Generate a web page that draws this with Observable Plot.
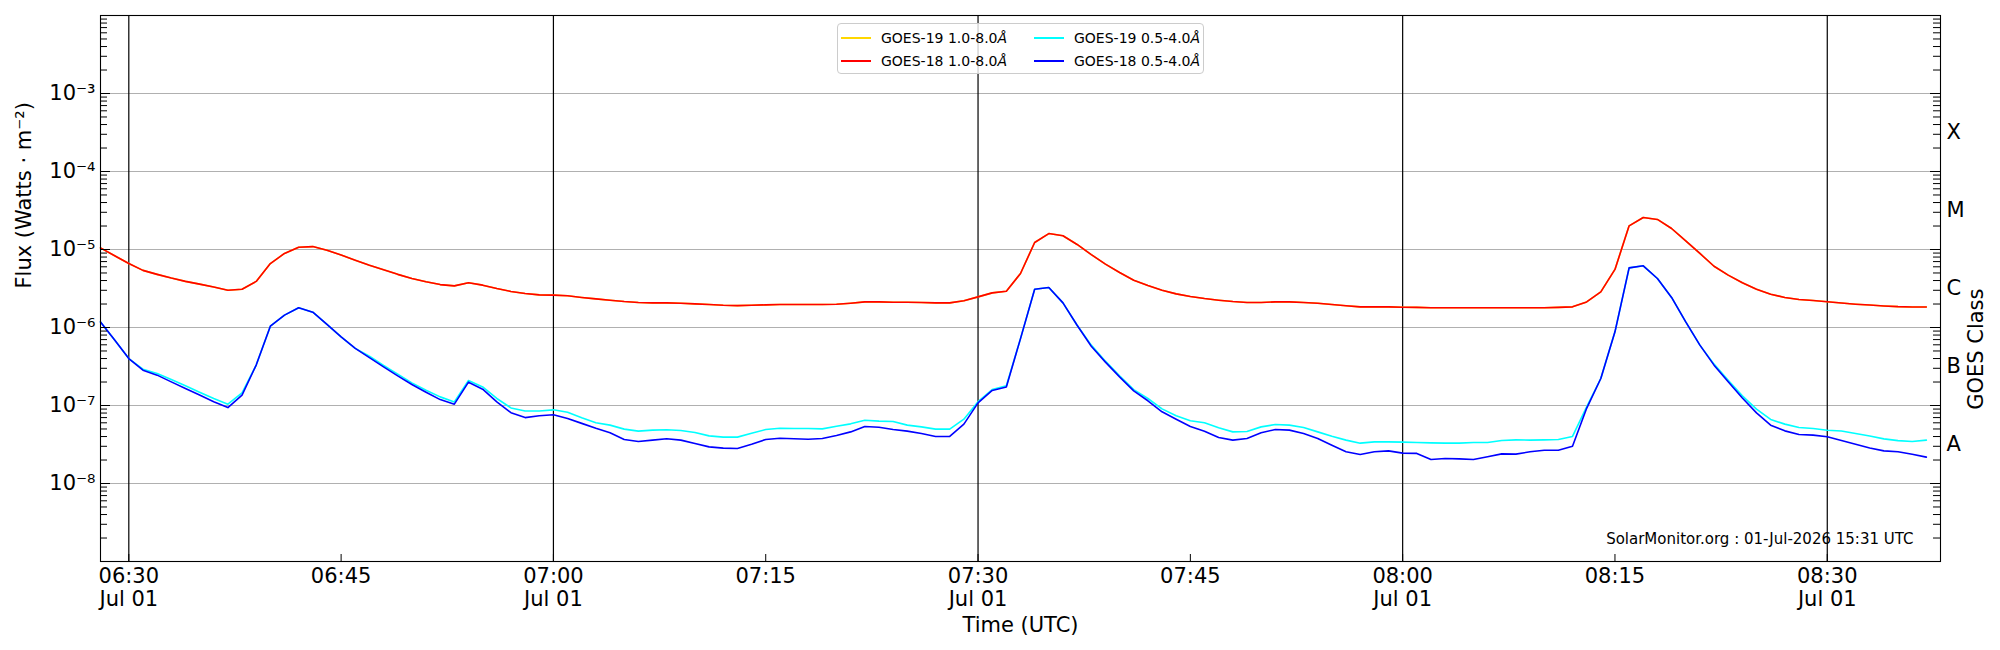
<!DOCTYPE html>
<html>
<head>
<meta charset="utf-8">
<script src="https://cdn.jsdelivr.net/npm/d3@7"></script>
<script src="https://cdn.jsdelivr.net/npm/@observablehq/plot@0.6"></script>
<style>
  html, body { margin: 0; padding: 0; background: #fff; }
  #wrap { position: relative; width: 2000px; height: 650px; font-family: "DejaVu Sans", sans-serif; }
  #legend {
    position: absolute; left: 837px; top: 23px; width: 367px; height: 51px;
    box-sizing: border-box; border: 1px solid #cccccc; border-radius: 4px;
    background: rgba(255,255,255,0.8); font-size: 14px; color: #000;
  }
  .entry { position: absolute; height: 20px; line-height: 20px; white-space: nowrap; }
  .entry .sw { position: absolute; left: 0; top: 9px; width: 30px; height: 2px; }
  .entry .lb { position: absolute; left: 40px; top: 0; }
</style>
</head>
<body>
<div id="wrap"></div>
<script>
// ---------------- data ----------------
const startTime = "2026-07-01T06:28:00Z";   // first sample, 1-minute cadence
const endTime = "2026-07-01T08:38:00Z";     // right edge of the time axis
const dateLabel = "Jul 01";

// GOES-18 1.0-8.0 Å (W m^-2)
const goes18Long = [
  1.05e-5, 8.3e-6, 6.6e-6, 5.4e-6, 4.8e-6, 4.3e-6, 3.9e-6, 3.6e-6, 3.3e-6, 3.0e-6,
  3.1e-6, 3.9e-6, 6.6e-6, 8.9e-6, 1.07e-5, 1.09e-5, 9.8e-6, 8.5e-6, 7.3e-6, 6.3e-6,
  5.5e-6, 4.8e-6, 4.25e-6, 3.85e-6, 3.55e-6, 3.42e-6, 3.74e-6, 3.49e-6, 3.16e-6, 2.9e-6,
  2.73e-6, 2.62e-6, 2.6e-6, 2.55e-6, 2.43e-6, 2.33e-6, 2.24e-6, 2.15e-6, 2.09e-6, 2.07e-6,
  2.07e-6, 2.05e-6, 2.01e-6, 1.97e-6, 1.93e-6, 1.91e-6, 1.93e-6, 1.95e-6, 1.97e-6, 1.97e-6,
  1.97e-6, 1.97e-6, 1.99e-6, 2.05e-6, 2.13e-6, 2.13e-6, 2.11e-6, 2.11e-6, 2.09e-6, 2.07e-6,
  2.07e-6, 2.2e-6, 2.47e-6, 2.78e-6, 2.92e-6, 4.92e-6, 1.23e-5, 1.6e-5, 1.5e-5, 1.16e-5,
  8.6e-6, 6.5e-6, 5.07e-6, 4.04e-6, 3.45e-6, 3.01e-6, 2.7e-6, 2.5e-6, 2.35e-6, 2.24e-6,
  2.15e-6, 2.09e-6, 2.09e-6, 2.13e-6, 2.13e-6, 2.09e-6, 2.05e-6, 1.97e-6, 1.9e-6, 1.84e-6,
  1.84e-6, 1.84e-6, 1.82e-6, 1.81e-6, 1.79e-6, 1.79e-6, 1.79e-6, 1.79e-6, 1.79e-6, 1.79e-6,
  1.79e-6, 1.79e-6, 1.79e-6, 1.81e-6, 1.84e-6, 2.13e-6, 2.86e-6, 5.55e-6, 2.01e-5, 2.57e-5,
  2.43e-5, 1.86e-5, 1.29e-5, 8.9e-6, 6.1e-6, 4.69e-6, 3.74e-6, 3.1e-6, 2.67e-6, 2.43e-6,
  2.29e-6, 2.22e-6, 2.14e-6, 2.06e-6, 1.99e-6, 1.94e-6, 1.89e-6, 1.85e-6, 1.83e-6, 1.83e-6
];

// GOES-19 1.0-8.0 Å (drawn under GOES-18, visually identical)
const goes19Long = [
  1.05e-5, 8.3e-6, 6.6e-6, 5.4e-6, 4.8e-6, 4.3e-6, 3.9e-6, 3.6e-6, 3.3e-6, 3.0e-6,
  3.1e-6, 3.9e-6, 6.6e-6, 8.9e-6, 1.07e-5, 1.09e-5, 9.8e-6, 8.5e-6, 7.3e-6, 6.3e-6,
  5.5e-6, 4.8e-6, 4.25e-6, 3.85e-6, 3.55e-6, 3.42e-6, 3.74e-6, 3.49e-6, 3.16e-6, 2.9e-6,
  2.73e-6, 2.62e-6, 2.6e-6, 2.55e-6, 2.43e-6, 2.33e-6, 2.24e-6, 2.15e-6, 2.09e-6, 2.07e-6,
  2.07e-6, 2.05e-6, 2.01e-6, 1.97e-6, 1.93e-6, 1.91e-6, 1.93e-6, 1.95e-6, 1.97e-6, 1.97e-6,
  1.97e-6, 1.97e-6, 1.99e-6, 2.05e-6, 2.13e-6, 2.13e-6, 2.11e-6, 2.11e-6, 2.09e-6, 2.07e-6,
  2.07e-6, 2.2e-6, 2.47e-6, 2.78e-6, 2.92e-6, 4.92e-6, 1.23e-5, 1.6e-5, 1.5e-5, 1.16e-5,
  8.6e-6, 6.5e-6, 5.07e-6, 4.04e-6, 3.45e-6, 3.01e-6, 2.7e-6, 2.5e-6, 2.35e-6, 2.24e-6,
  2.15e-6, 2.09e-6, 2.09e-6, 2.13e-6, 2.13e-6, 2.09e-6, 2.05e-6, 1.97e-6, 1.9e-6, 1.84e-6,
  1.84e-6, 1.84e-6, 1.82e-6, 1.81e-6, 1.79e-6, 1.79e-6, 1.79e-6, 1.79e-6, 1.79e-6, 1.79e-6,
  1.79e-6, 1.79e-6, 1.79e-6, 1.81e-6, 1.84e-6, 2.13e-6, 2.86e-6, 5.55e-6, 2.01e-5, 2.57e-5,
  2.43e-5, 1.86e-5, 1.29e-5, 8.9e-6, 6.1e-6, 4.69e-6, 3.74e-6, 3.1e-6, 2.67e-6, 2.43e-6,
  2.29e-6, 2.22e-6, 2.14e-6, 2.06e-6, 1.99e-6, 1.94e-6, 1.89e-6, 1.85e-6, 1.83e-6, 1.83e-6
];

// GOES-19 0.5-4.0 Å
const goes19Short = [
  1.18e-6, 6.9e-7, 4.0e-7, 2.92e-7, 2.57e-7, 2.15e-7, 1.79e-7, 1.48e-7, 1.23e-7, 1.04e-7,
  1.45e-7, 3.3e-7, 1.04e-6, 1.44e-6, 1.79e-6, 1.57e-6, 1.1e-6, 7.6e-7, 5.4e-7, 4.28e-7,
  3.26e-7, 2.52e-7, 1.95e-7, 1.57e-7, 1.29e-7, 1.11e-7, 2.09e-7, 1.73e-7, 1.23e-7, 9.3e-8,
  8.5e-8, 8.5e-8, 8.8e-8, 8.2e-8, 6.95e-8, 6.0e-8, 5.6e-8, 4.98e-8, 4.69e-8, 4.83e-8,
  4.88e-8, 4.78e-8, 4.5e-8, 4.08e-8, 3.93e-8, 3.93e-8, 4.42e-8, 4.92e-8, 5.12e-8, 5.07e-8,
  5.07e-8, 5.02e-8, 5.43e-8, 5.82e-8, 6.48e-8, 6.3e-8, 6.24e-8, 5.6e-8, 5.32e-8, 4.98e-8,
  4.98e-8, 6.68e-8, 1.12e-7, 1.6e-7, 1.79e-7, 7.2e-7, 3.1e-6, 3.26e-6, 2.07e-6, 1.07e-6,
  5.94e-7, 3.7e-7, 2.4e-7, 1.6e-7, 1.23e-7, 9.06e-8, 7.37e-8, 6.36e-8, 6.0e-8, 5.18e-8,
  4.59e-8, 4.64e-8, 5.32e-8, 5.7e-8, 5.6e-8, 5.22e-8, 4.59e-8, 4.04e-8, 3.6e-8, 3.29e-8,
  3.42e-8, 3.42e-8, 3.39e-8, 3.35e-8, 3.32e-8, 3.29e-8, 3.29e-8, 3.35e-8, 3.35e-8, 3.56e-8,
  3.63e-8, 3.6e-8, 3.63e-8, 3.67e-8, 4.01e-8, 9.6e-8, 2.22e-7, 8.8e-7, 5.82e-6, 6.18e-6,
  4.25e-6, 2.43e-6, 1.18e-6, 5.94e-7, 3.39e-7, 2.11e-7, 1.33e-7, 8.97e-8, 6.62e-8, 5.77e-8,
  5.22e-8, 5.07e-8, 4.82e-8, 4.71e-8, 4.37e-8, 4.06e-8, 3.73e-8, 3.55e-8, 3.46e-8, 3.6e-8
];

// GOES-18 0.5-4.0 Å
const goes18Short = [
  1.18e-6, 6.9e-7, 4.0e-7, 2.84e-7, 2.45e-7, 2.01e-7, 1.65e-7, 1.36e-7, 1.12e-7, 9.4e-8,
  1.36e-7, 3.3e-7, 1.04e-6, 1.44e-6, 1.79e-6, 1.57e-6, 1.1e-6, 7.6e-7, 5.4e-7, 4.1e-7,
  3.13e-7, 2.4e-7, 1.86e-7, 1.48e-7, 1.19e-7, 1.04e-7, 1.99e-7, 1.62e-7, 1.11e-7, 8.1e-8,
  7.0e-8, 7.4e-8, 7.6e-8, 6.8e-8, 5.9e-8, 5.1e-8, 4.47e-8, 3.67e-8, 3.45e-8, 3.6e-8,
  3.74e-8, 3.6e-8, 3.26e-8, 2.95e-8, 2.84e-8, 2.81e-8, 3.19e-8, 3.67e-8, 3.81e-8, 3.74e-8,
  3.7e-8, 3.77e-8, 4.12e-8, 4.59e-8, 5.38e-8, 5.27e-8, 4.92e-8, 4.69e-8, 4.38e-8, 4.01e-8,
  4.01e-8, 5.77e-8, 1.08e-7, 1.56e-7, 1.73e-7, 7.2e-7, 3.1e-6, 3.26e-6, 2.07e-6, 1.07e-6,
  5.76e-7, 3.6e-7, 2.33e-7, 1.54e-7, 1.15e-7, 8.3e-8, 6.68e-8, 5.38e-8, 4.69e-8, 3.89e-8,
  3.6e-8, 3.77e-8, 4.47e-8, 4.92e-8, 4.83e-8, 4.38e-8, 3.77e-8, 3.1e-8, 2.55e-8, 2.36e-8,
  2.55e-8, 2.62e-8, 2.45e-8, 2.43e-8, 2.03e-8, 2.09e-8, 2.07e-8, 2.03e-8, 2.2e-8, 2.4e-8,
  2.38e-8, 2.55e-8, 2.67e-8, 2.67e-8, 3.01e-8, 9.2e-8, 2.22e-7, 8.8e-7, 5.82e-6, 6.18e-6,
  4.25e-6, 2.43e-6, 1.18e-6, 5.94e-7, 3.29e-7, 2.01e-7, 1.25e-7, 8.05e-8, 5.6e-8, 4.73e-8,
  4.25e-8, 4.17e-8, 3.97e-8, 3.55e-8, 3.18e-8, 2.85e-8, 2.62e-8, 2.55e-8, 2.37e-8, 2.18e-8
];

const seriesNames = ["GOES-19 1.0-8.0", "GOES-18 1.0-8.0", "GOES-19 0.5-4.0", "GOES-18 0.5-4.0"];
const classNames = ["A", "B", "C", "M", "X"];
const classThresholds = [1e-8, 1e-7, 1e-6, 1e-5, 1e-4];
const yLabelExponents = [-8, -7, -6, -5, -4, -3];
const yDomainExponents = [-9, -2];
const stamp = "SolarMonitor.org : 01-Jul-2026 15:31 UTC";

// ---------------- build ----------------
const t0 = new Date(startTime);
const times = goes18Long.map((_, i) => new Date(+t0 + i * 60000));
const xDomain = [t0, new Date(endTime)];

const decades = yLabelExponents.map(e => Math.pow(10, e));
const minor = [];
for (let e = yDomainExponents[0]; e < yDomainExponents[1]; e++)
  for (let k = 2; k <= 9; k++) minor.push(k * Math.pow(10, e));

const sup = {"-": "\u207B", "0": "\u2070", "1": "\u00B9", "2": "\u00B2", "3": "\u00B3", "4": "\u2074",
             "5": "\u2075", "6": "\u2076", "7": "\u2077", "8": "\u2078", "9": "\u2079"};
const fmtPow = d => "10" + String(Math.round(Math.log10(d))).split("").map(c => sup[c]).join("");

const quarterTicks = d3.utcMinute.every(15).range(new Date(+t0 + 60000), xDomain[1]);
const halfHours = quarterTicks.filter(d => d.getUTCMinutes() % 30 === 0);
const fmtX = d => d3.utcFormat("%H:%M")(d) + (d.getUTCMinutes() % 30 === 0 ? "\n" + dateLabel : "");

const W = 2000, H = 650, mL = 100, mR = 60, mT = 15, mB = 89;
const pw = W - mL - mR, ph = H - mT - mB;
const FS = 21;

const lineOpts = (arr, color) => Plot.line(arr, {x: (d, i) => times[i], y: d => d, stroke: color, strokeWidth: 1.6, curve: "linear"});

const chart = Plot.plot({
  width: W, height: H,
  marginLeft: mL, marginRight: mR, marginTop: mT, marginBottom: mB,
  style: {fontFamily: "DejaVu Sans", background: "white", color: "black", overflow: "visible"},
  x: {type: "utc", domain: xDomain, axis: null},
  y: {type: "log", domain: yDomainExponents.map(e => Math.pow(10, e)), axis: null},
  marks: [
    Plot.ruleY(decades, {y: d => d, stroke: "#b0b0b0", strokeWidth: 1}),
    Plot.ruleX(halfHours, {x: d => d, stroke: "black", strokeWidth: 1.2}),
    lineOpts(goes19Long, "#ffd700"),
    lineOpts(goes18Long, "#ff0000"),
    lineOpts(goes19Short, "#00ffff"),
    lineOpts(goes18Short, "#0000ff"),
    // inward ticks, left and right
    Plot.tickY(minor, {y: d => d, stroke: "black", strokeWidth: 1, insetRight: pw - 7}),
    Plot.tickY(decades, {y: d => d, stroke: "black", strokeWidth: 1, insetRight: pw - 10}),
    Plot.tickY(minor, {y: d => d, stroke: "black", strokeWidth: 1, insetLeft: pw - 7}),
    Plot.tickY(decades, {y: d => d, stroke: "black", strokeWidth: 1, insetLeft: pw - 10}),
    Plot.tickX(quarterTicks, {x: d => d, stroke: "black", strokeWidth: 1, insetTop: ph - 7}),
    Plot.frame({stroke: "black", strokeWidth: 1.1}),
    // tick labels
    Plot.text(decades, {y: d => d, text: fmtPow, frameAnchor: "left", textAnchor: "end", dx: -5, fontSize: FS}),
    Plot.text(quarterTicks, {x: d => d, text: fmtX, frameAnchor: "bottom", lineAnchor: "top", dy: 5, lineHeight: 1.11, fontSize: FS}),
    Plot.text(classThresholds, {y: d => d * Math.sqrt(10), text: (d, i) => classNames[i], frameAnchor: "right", textAnchor: "start", dx: 6, fontSize: FS}),
    // axis titles
    Plot.text(["Flux (Watts \u00B7 m\u207B\u00B2)"], {frameAnchor: "left", rotate: -90, dx: -76, fontSize: FS}),
    Plot.text(["GOES Class"], {frameAnchor: "right", rotate: -90, dx: 36, fontSize: FS}),
    Plot.text(["Time (UTC)"], {frameAnchor: "bottom", lineAnchor: "bottom", dy: 70, fontSize: FS}),
    Plot.text([stamp], {frameAnchor: "bottom-right", textAnchor: "end", dx: -27, dy: -18, fontSize: 15})
  ]
});

const wrap = document.getElementById("wrap");
wrap.appendChild(chart);

// legend overlay (matplotlib style, inside axes at top centre)
const legendColors = ["#ffd700", "#ff0000", "#00ffff", "#0000ff"];
const lg = document.createElement("div");
lg.id = "legend";
const pos = [[3, 4], [3, 27], [196, 4], [196, 27]];
seriesNames.forEach((name, i) => {
  const e = document.createElement("div");
  e.className = "entry";
  e.style.left = pos[i][0] + "px";
  e.style.top = pos[i][1] + "px";
  e.innerHTML = `<span class="sw" style="background:${legendColors[i]}"></span><span class="lb">${name}<i>\u00C5</i></span>`;
  lg.appendChild(e);
});
wrap.appendChild(lg);
</script>
</body>
</html>
